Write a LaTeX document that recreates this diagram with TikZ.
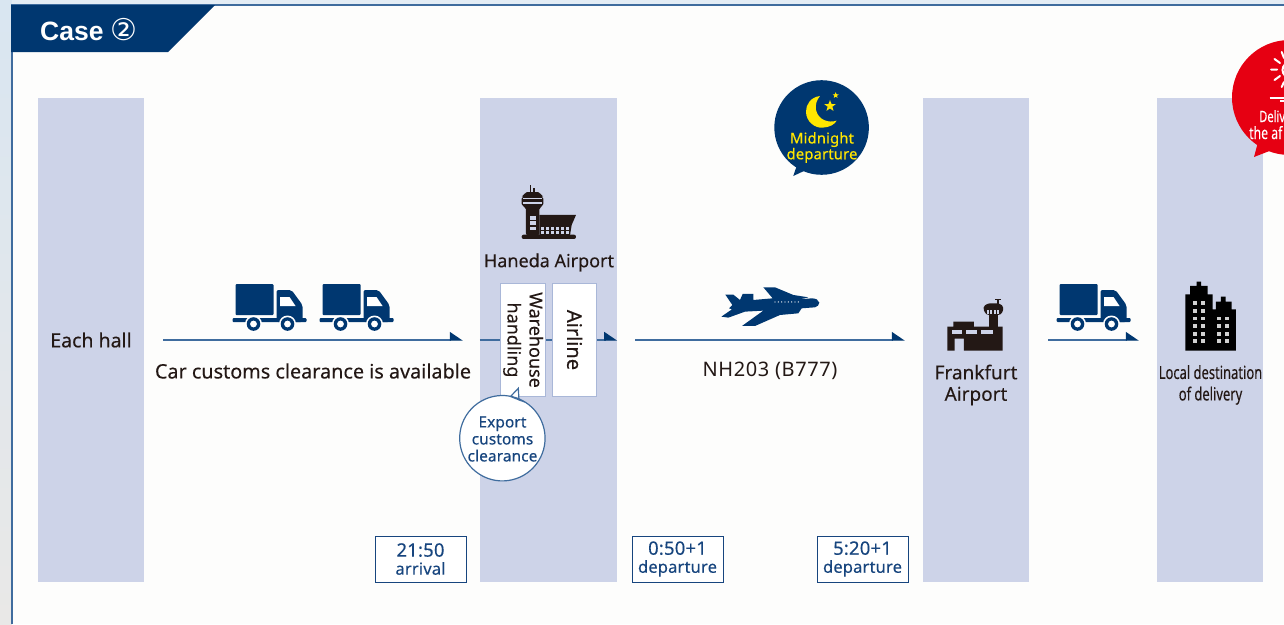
\documentclass[tikz,border=0pt]{standalone}
\usepackage{fontspec}
\setmainfont{Noto Sans}
\newfontfamily\symf{DejaVu Sans}
\newfontfamily\medf[FakeBold=0.2]{Noto Sans}
\newfontfamily\medsp[FakeBold=0.2,LetterSpace=1]{Noto Sans}
\newfontfamily\strongsp[FakeBold=0.45,LetterSpace=1]{Noto Sans}
\newfontfamily\heavyf[FakeBold=0.55]{Noto Sans}
\newfontfamily\narrowf[FakeStretch=0.72,FakeBold=0.15]{Noto Sans}
\newfontfamily\casef{Liberation Sans}
\usetikzlibrary{arrows.meta,shapes.geometric}
\definecolor{navy}{HTML}{003770}
\definecolor{colfill}{HTML}{CDD3E8}
\definecolor{linec}{HTML}{3F6C9E}
\definecolor{ink}{HTML}{231815}
\definecolor{txtblue}{HTML}{17457E}
\definecolor{boxedge}{HTML}{A9B7D8}
\definecolor{moony}{HTML}{FFE600}
\definecolor{redb}{HTML}{E60012}
\definecolor{panelc}{HTML}{FDFDFC}
\definecolor{skytop}{HTML}{D9E6F1}
\definecolor{skylow}{HTML}{E9E8E7}
\newcommand{\tbig}[1]{{\fontsize{18.5}{18}\selectfont #1}}
\tikzset{
  x=1pt,y=-1pt,
  col/.style={fill=colfill,draw=none,minimum width=106pt,minimum height=484pt,inner sep=0pt},
  lab/.style={text=ink,inner sep=0pt,align=center,font=\fontsize{18}{21.5}\selectfont\medf},
  flow/.style={draw=linec,line width=1.3pt,-{Triangle[left,length=12pt,width=16pt,color=navy]}},
  plain/.style={draw=linec,line width=1.3pt},
  timebox/.style={draw=txtblue,line width=1pt,fill=white,text=txtblue,minimum width=91pt,minimum height=46pt,inner sep=0pt,align=center,font=\fontsize{16.5}{18}\selectfont\medsp},
  vbox/.style={draw=boxedge,line width=1pt,fill=white,minimum height=44.5pt,minimum width=113pt,inner sep=0pt,rotate=-90,text=ink,align=center},
  truck/.pic={
    \fill[navy,rounded corners=1pt] (3,0) rectangle (41,31);
    \fill[navy,rounded corners=2pt] (44,6) -- (59,6) -- (70,21) -- (70,38) -- (44,38) -- cycle;
    \fill[white] (47.5,13) -- (57,13) -- (63,22) -- (47.5,22) -- cycle;
    \fill[navy,rounded corners=1pt] (0,34) rectangle (74,38);
    \foreach \wx in {21,55}{
      \fill[white] (\wx,40) circle (8.5);
      \fill[navy] (\wx,40) circle (6.8);
      \fill[white] (\wx,40) circle (3.4);
    }
  }
}
\begin{document}
\begin{tikzpicture}
\useasboundingbox (0,0) rectangle (1284,624);
% background
\shade[top color=skytop,bottom color=skylow] (0,0) rectangle (12,624);
\fill[skytop!70!white] (12,0) rectangle (1284,5);
\fill[panelc] (12,5) rectangle (1284,624);
\draw[linec,line width=2pt] (12,624) -- (12,5) -- (1284,5);
\fill[navy] (11,5) -- (215,5) -- (168,52) -- (11,52) -- cycle;
\node[text=white,inner sep=0pt,anchor=west,font=\fontsize{26.5}{28}\selectfont\casef\bfseries] (casetitle) at (40,29.5) {Case {\symf\mdseries\fontsize{30}{28}\selectfont ②}};
% columns
\node[col] (col1) at (91,340) {};
\node[col,minimum width=137pt] (col2) at (548.5,340) {};
\node[col] (col3) at (976,340) {};
\node[col] (col4) at (1210,340) {};
% column boxes
\node[vbox,font=\fontsize{18}{22}\selectfont\medf] (wh) at (523.2,340) {Warehouse\\handling};
\node[vbox,font=\fontsize{20}{24}\selectfont\heavyf] (air) at (574.7,340) {Airline};
% connectors
\draw[flow,shorten <=19pt,shorten >=17pt] (col1.east) -- (col2.west);
\draw[plain] (col2.west) -- (wh.south);
\draw[plain] (wh.north) -- (air.south);
\draw[flow] (air.north) -- (col2.east);
\draw[flow,shorten <=18pt,shorten >=18pt] (col2.east) -- (col3.west);
\draw[flow,shorten <=19pt,shorten >=18pt] (col3.east) -- (col4.west);
% labels
\node[lab,font=\fontsize{19.5}{21.5}\selectfont\medf] (hall) at (91,340) {Each hall};
\node[lab,font=\fontsize{19.8}{21.5}\selectfont\medf] (cars) at (313,371) {Car customs clearance is available};
\node[lab] (haneda) at (549,262.5) {Haneda Airport};
\node[lab,font=\fontsize{20}{21.5}\selectfont\addfontfeatures{LetterSpace=3}] (flight) at (770,371) {NH203 (B777)};
\node[lab,font=\fontsize{19}{21.5}\selectfont\medf] (fra) at (976,385) {Frankfurt\\Airport};
\node[lab,font=\fontsize{18}{21.5}\selectfont\narrowf] (dest) at (1210.5,385) {Local destination\\of delivery};
% time boxes
\node[timebox] (t1) at (420.5,559) {\tbig{21:50}\\arrival};
\node[timebox] (t2) at (677.5,559) {\tbig{0:50+1}\\departure};
\node[timebox] (t3) at (862.5,559) {\tbig{5:20+1}\\departure};
% trucks
\pic at (232.5,284) {truck};
\pic at (319.5,284) {truck};
\pic at (1056.5,284) {truck};
% airplane
\begin{scope}[shift={(700,70)},x=0.3333pt,y=-0.3333pt]
\fill[navy] (358,698) .. controls (356,690) and (348,685) .. (335,685) -- (300,688) -- (325,682) -- (280,675) -- (225,652) -- (190,652) -- (218,685) -- (160,690) -- (160,672) -- (128,672) -- (120,690) -- (100,674) -- (76,674) -- (97,705) -- (87,715) -- (96,718) -- (64,740) -- (85,743) -- (135,725) -- (190,722) -- (126,768) -- (165,768) -- (240,735) -- (295,730) -- (305,715) -- (345,712) .. controls (352,710) and (358,705) .. (358,698) -- cycle;
\foreach \px in {225,235,...,295}{\fill[white] (\px,696) circle (2);}
\end{scope}
% Haneda tower
\begin{scope}[shift={(450,170)},x=0.3333pt,y=-0.3333pt]
\fill[ink] (239,46) rectangle (244,70);
\fill[ink] (250,55) rectangle (254,70);
\fill[ink,rounded corners=2pt] (225,66) -- (270,66) -- (274,78) -- (280,80) -- (280,108) -- (268,112) -- (268,196) -- (228,196) -- (228,112) -- (215,108) -- (215,80) -- (221,78) -- cycle;
\fill[colfill] (219,84) rectangle (276,88);
\fill[colfill] (219,97) rectangle (276,101);
\foreach \wy in {138,154,170}{\fill[colfill] (240,\wy) rectangle (258,\wy+11);}
\fill[ink] (268,135) -- (378,135) -- (365,165) -- (360,196) -- (268,196) -- cycle;
\foreach \wx in {272,287,302,317,332,347}{
  \fill[colfill] (\wx,171) rectangle (\wx+11,179);
  \fill[colfill] (\wx,183) rectangle (\wx+11,191);
}
\fill[ink,rounded corners=2pt] (215,194) rectangle (378,207);
\end{scope}
% Frankfurt tower
\begin{scope}[shift={(700,70)},x=0.3333pt,y=-0.3333pt]
\fill[ink] (891,688) rectangle (896,702);
\fill[ink] (884,686) rectangle (903,690);
\fill[ink] (868,730) rectangle (895,772);
\fill[ink,rounded corners=3pt] (862,700) -- (900,700) -- (912,712) -- (904,735) -- (858,735) -- (848,712) -- cycle;
\foreach \wx in {861,871,881,891}{\fill[colfill] (\wx,720) rectangle (\wx+6,732);}
\fill[ink] (760,755) -- (822,755) -- (822,770) -- (908,770) -- (908,842) -- (792,842) -- (792,806) -- (764,806) -- (764,842) -- (742,842) -- (742,770) -- (760,770) -- cycle;
\fill[colfill] (757,780) rectangle (787,792);
\fill[colfill] (798,780) rectangle (832,792);
\fill[colfill] (842,780) rectangle (878,792);
\end{scope}
% city building
\begin{scope}[shift={(1030,20)},x=0.3333pt,y=-0.3333pt]
\fill[black] (466,992) -- (466,823) -- (480,823) -- (480,798) -- (500,798) -- (500,785) -- (513,785) -- (513,798) -- (533,798) -- (533,823) -- (548,823) -- (548,868) -- (558,868) -- (558,845) -- (573,845) -- (573,830) -- (587,830) -- (587,845) -- (605,845) -- (605,868) -- (618,868) -- (618,992) -- cycle;
\foreach \wy in {843,867,890,913,936,958}{
  \fill[black!18] (488,\wy) rectangle (500,\wy+11);
  \fill[black!18] (512,\wy) rectangle (524,\wy+11);
}
\foreach \wy in {890,913,936,958}{
  \fill[black!18] (562,\wy) rectangle (574,\wy+11);
  \fill[black!18] (586,\wy) rectangle (598,\wy+11);
}
\end{scope}
% midnight bubble
\fill[navy] (821.6,127.5) circle (47.3);
\fill[navy] (797,165) -- (793.3,176) -- (806,170) -- cycle;
\begin{scope}[shift={(700,70)},x=0.3333pt,y=-0.3333pt]
\fill[moony] (360,78) .. controls (330,82) and (318,105) .. (318,125) .. controls (318,155) and (345,175) .. (368,173) .. controls (390,172) and (405,162) .. (410,152) .. controls (385,160) and (355,150) .. (348,120) .. controls (345,105) and (350,90) .. (360,78) -- cycle;
\node[star,star points=5,star point ratio=2.4,fill=moony,inner sep=0pt,minimum size=12pt] (starbig) at (390,108) {};
\node[star,star points=5,star point ratio=2.4,fill=moony,inner sep=0pt,minimum size=6.5pt] (starsmall) at (407,76) {};
\end{scope}
\node[text=moony,inner sep=0pt,align=center,font=\fontsize{14.8}{14.2}\selectfont\strongsp] (midnight) at (822,147.5) {Midnight\\departure};
% export bubble
\draw[fill=white,draw=linec,line width=1.2pt] (510.5,396.5) -- (518.3,388.3) -- (519,400) -- (525,402) arc[start angle=-58,end angle=-417,radius=42.7] -- cycle;
\node[text=txtblue,inner sep=0pt,align=center,font=\fontsize{15.3}{17}\selectfont\strongsp] (export) at (502.5,439) {Export\\customs\\clearance};
% red bubble
\fill[redb] (1289.5,97.5) circle (57.5);
\fill[redb] (1258,142) -- (1254,157) -- (1272,150) -- cycle;
\draw[white,line width=2pt,line cap=round] (1271,69.5) -- (1277,69.5) (1274.5,59) -- (1280,63) (1274.5,80) -- (1280,76) (1281.7,52) -- (1284,58) (1281.7,87) -- (1284,82);
\draw[white,line width=2pt] (1290,70) circle (7.5);
\draw[white,line width=1.4pt] (1269.5,98) -- (1284,98);
\fill[white] (1280,100) rectangle (1284,101.5);
\node[text=white,inner sep=0pt,anchor=base west,font=\fontsize{15.5}{18}\selectfont\narrowf] (red1) at (1259,122) {Deliv};
\node[text=white,inner sep=0pt,anchor=base west,font=\fontsize{17}{18}\selectfont\narrowf] (red2) at (1249,139) {the af};
\end{tikzpicture}
\end{document}
